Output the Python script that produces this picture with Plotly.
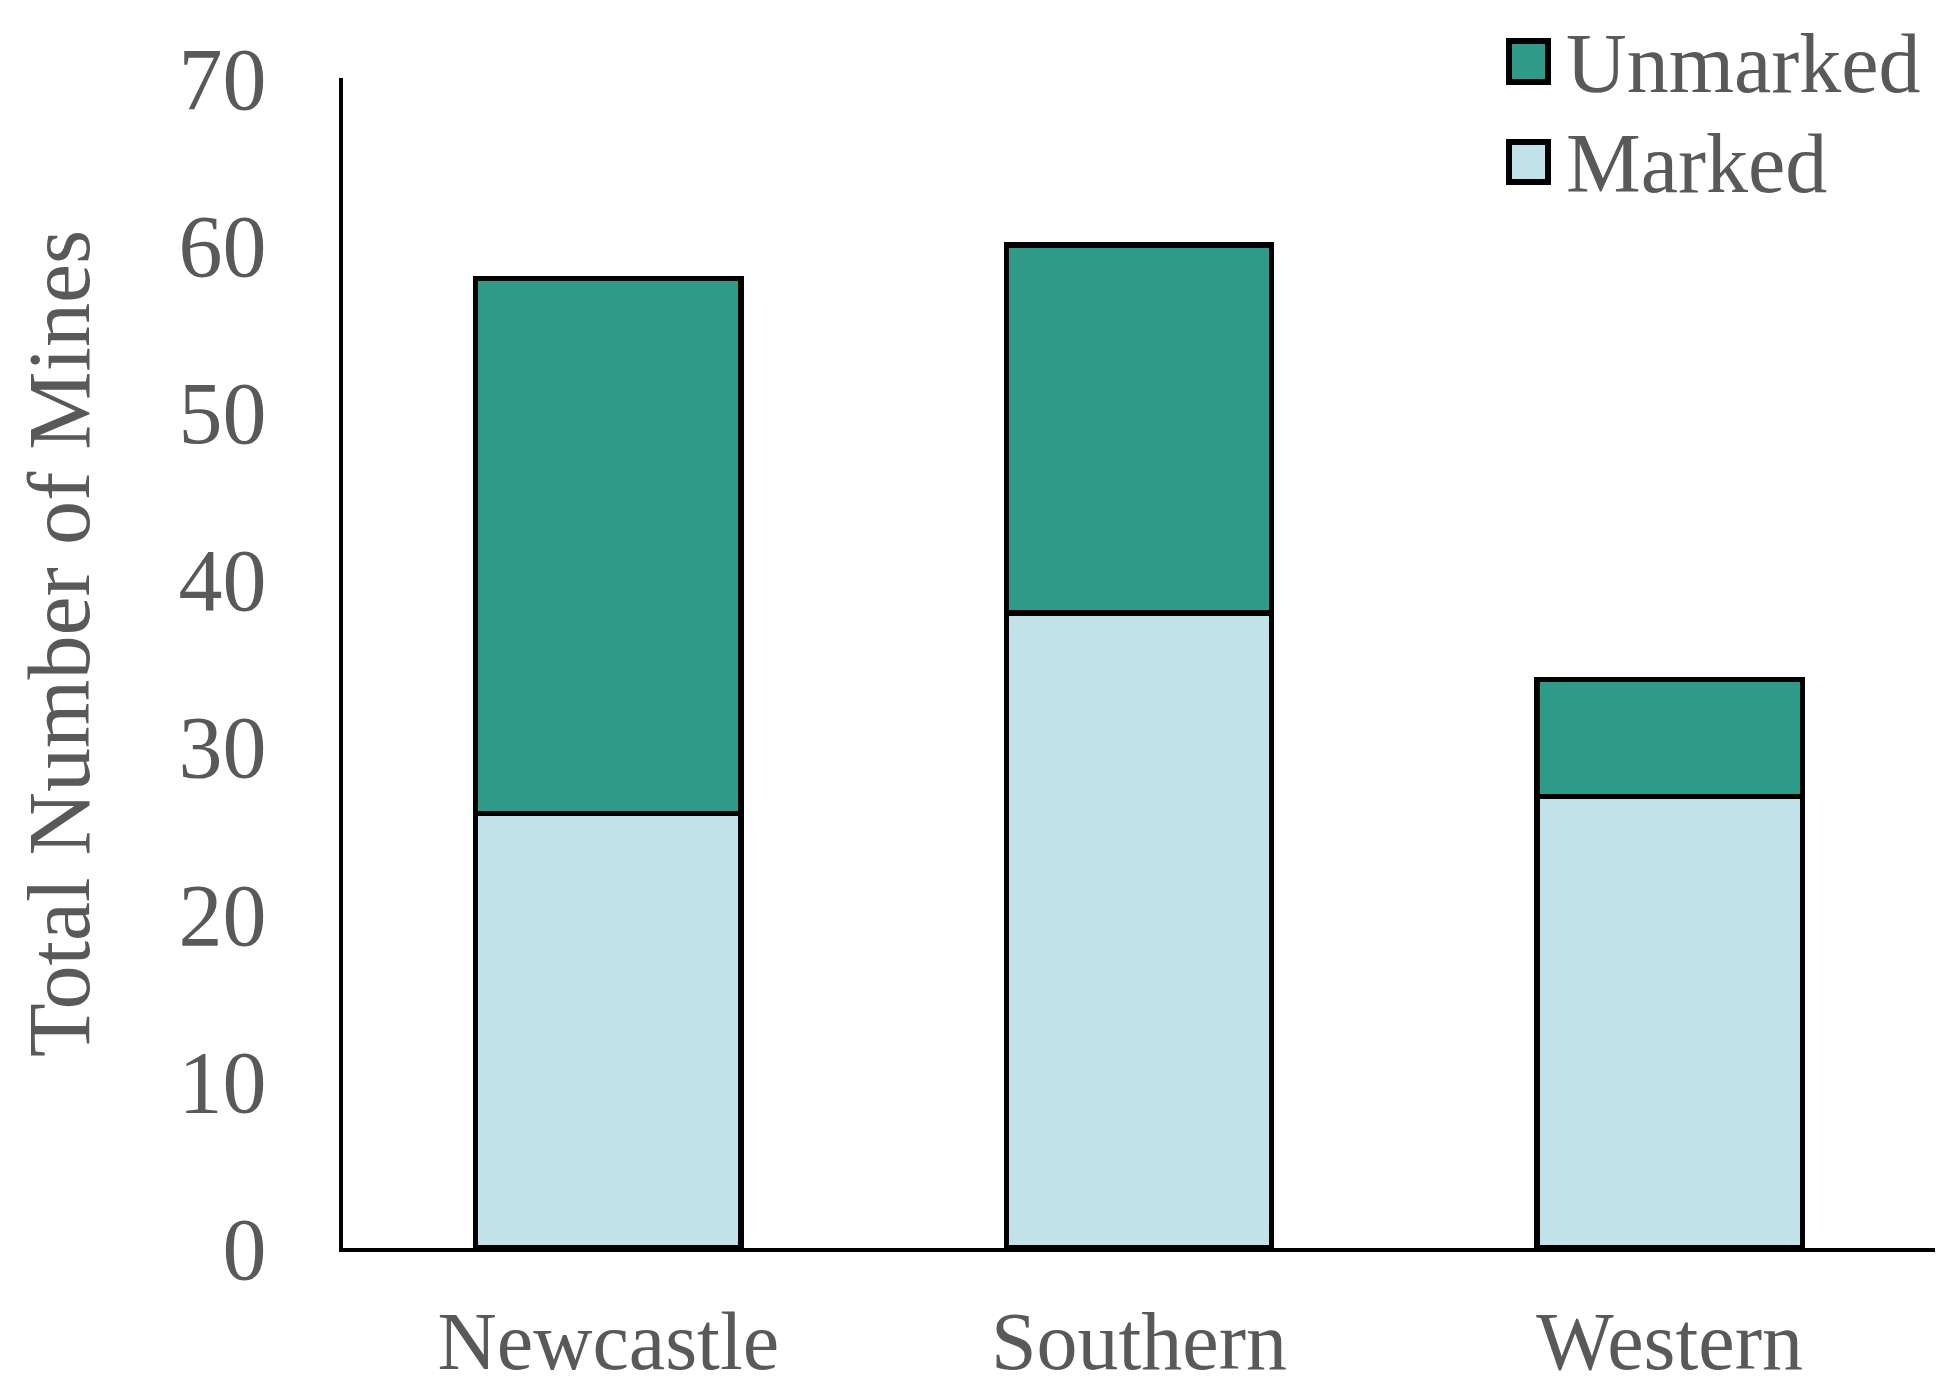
import plotly.graph_objects as go

regions = ["Newcastle", "Southern", "Western"]
marked = [26, 38, 27]
unmarked = [32, 22, 7]
series_names = ["Marked", "Unmarked"]
y_ticks = [0, 10, 20, 30, 40, 50, 60, 70]

FONT = "Liberation Serif, Times New Roman, serif"
GREY = "#595959"
C_MARKED = "#C2E2EA"
C_UNMARKED = "#2E9A88"

fig = go.Figure()
fig.add_trace(go.Bar(x=regions, y=marked, name=series_names[0],
                     marker=dict(color=C_MARKED, line=dict(color="black", width=5.5)),
                     showlegend=False))
fig.add_trace(go.Bar(x=regions, y=unmarked, name=series_names[1],
                     marker=dict(color=C_UNMARKED, line=dict(color="black", width=5.5)),
                     showlegend=False))

# Legend drawn manually (large square swatches)
W, H = 1957, 1394
L, R, T, B = 335, 30, 70, 154
pw, ph = W - L - R, H - T - B
def px(x):
    return (x - L) / pw
def py(y):
    return (H - B - y) / ph

legend_items = [(series_names[1], C_UNMARKED, 30, 77), (series_names[0], C_MARKED, 131, 177)]
for name, col, y0, y1 in legend_items:
    fig.add_shape(type="rect", xref="paper", yref="paper",
                  x0=px(1501), x1=px(1540), y0=py(y1 - 3), y1=py(y0 + 3),
                  fillcolor=col, line=dict(color="black", width=6))
    fig.add_annotation(xref="paper", yref="paper", x=px(1556), y=py((y0 + y1) / 2 + 2),
                       text=name, showarrow=False, xanchor="left", yanchor="middle",
                       font=dict(family=FONT, size=84, color=GREY))

fig.add_annotation(xref="paper", yref="paper", x=px(52), y=py(636),
                   text="Total Number of Mines", textangle=-90, showarrow=False,
                   xanchor="center", yanchor="middle",
                   font=dict(family=FONT, size=88, color=GREY))

fig.update_layout(
    barmode="stack", bargap=0.5,
    width=W, height=H,
    margin=dict(l=L, r=R, t=T, b=B, autoexpand=False),
    plot_bgcolor="white", paper_bgcolor="white",
    font=dict(family=FONT, size=88, color=GREY),
)
fig.update_xaxes(showline=True, linecolor="black", linewidth=4, ticks="",
                 showgrid=False, ticklabelstandoff=19,
                 tickfont=dict(family=FONT, size=82, color=GREY))
fig.update_yaxes(range=[0, 70], tickvals=y_ticks, showline=True, linecolor="black",
                 linewidth=4, ticks="", showgrid=False, zeroline=False,
                 ticklabelstandoff=55,
                 tickfont=dict(family=FONT, size=88, color=GREY))

fig.write_html("out.html")
